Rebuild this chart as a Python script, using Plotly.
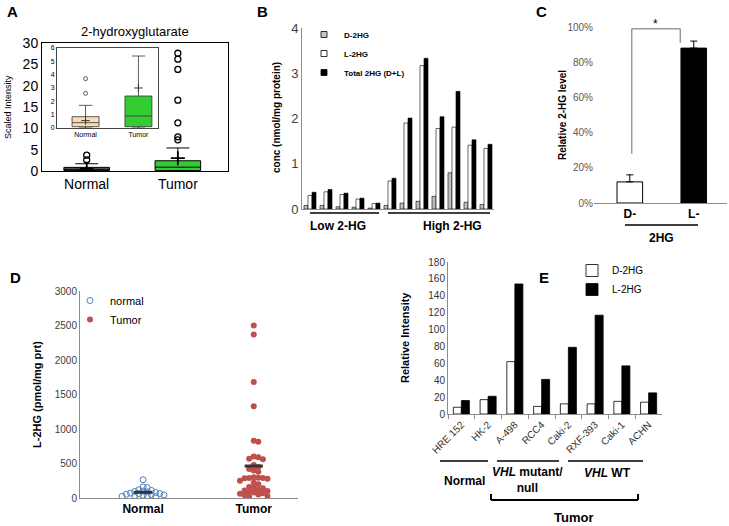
import numpy as np
import plotly.graph_objects as go

W, H = 729, 526
FONT = "Liberation Sans, Arial, sans-serif"

# --- A: 2-hydroxyglutarate (box summary) ---
a_groups = ["Normal", "Tumor"]
a_q1 = [0.1, 0.1]
a_median = [0.4, 0.9]
a_q3 = [0.85, 2.4]
a_lowfence = [0.0, 0.0]
a_upfence = [1.7, 5.4]
a_mean = [0.55, 3.0]
a_out_normal = [2.6, 3.7]
a_out_tumor = [7.3, 8.0, 11.3, 16.6, 23.8, 26.2, 27.6]

# --- B: D / L / total 2HG in tumours ---
b_samples = list(range(12))
b_d2hg = [0.08, 0.08, 0.05, 0.04, 0.02, 0.08, 0.13, 0.17, 0.28, 0.80, 0.15, 0.10]
b_l2hg = [0.30, 0.38, 0.32, 0.22, 0.12, 0.62, 1.90, 3.17, 1.78, 1.81, 1.41, 1.34]
b_total = [0.37, 0.43, 0.35, 0.24, 0.13, 0.68, 2.01, 3.33, 2.04, 2.60, 1.53, 1.43]

# --- C: relative 2-HG level ---
c_cats = ["D-", "L-"]
c_vals = [0.12, 0.88]
c_err = [0.04, 0.04]

# --- D: L-2HG normal vs tumour ---
d_normal = [265, 160, 150, 120, 110, 100, 95, 90, 80, 70, 65, 60, 55, 50, 45, 40, 35, 30, 25, 20]
d_tumor = [2500, 2370, 1680, 1330, 830, 815, 600, 590, 570, 560, 480, 450, 420, 400, 380,
           300, 295, 290, 290, 285, 280, 250, 220, 200, 160, 150, 140, 120, 110, 100,
           90, 80, 70, 60, 50, 40, 30, 20]

# --- E: cell lines ---
e_lines = ["HRE 152", "HK-2", "A-498", "RCC4", "Caki-2", "RXF-393", "Caki-1", "ACHN"]
e_d2hg = [8, 17, 62, 9, 12, 12, 15, 14]
e_l2hg = [16, 21, 154, 41, 79, 117, 57, 25]


def px(x):
    return x / W


def py(y):
    return 1 - y / H


def dom(x0, x1, y0, y1):
    # pixel box -> paper domains
    return [px(x0), px(x1)], [py(y1), py(y0)]


def swarm(vals, center, ux, uy, d):
    # simple beeswarm: push points sideways until they don't overlap
    placed, xs = [], []
    for v in vals:
        y = v * uy
        k = 0
        while True:
            off = ((k + 1) // 2) * d * (1 if k % 2 else -1) if k else 0
            if all((off - p[0]) ** 2 + (y - p[1]) ** 2 >= (0.95 * d) ** 2 for p in placed):
                break
            k += 1
        placed.append((off, y))
        xs.append(center + off / ux)
    return xs


fig = go.Figure()

# ---------- A main ----------
a_cols = ["#6e6259", "#33cc33"]
for i, g in enumerate(a_groups):
    fig.add_trace(go.Box(x=[i], q1=[a_q1[i]], median=[a_median[i]], q3=[a_q3[i]],
                         lowerfence=[a_lowfence[i]], upperfence=[a_upfence[i]],
                         width=0.5, whiskerwidth=0.5, fillcolor=a_cols[i],
                         line=dict(color="black", width=1), boxpoints=False,
                         showlegend=False, xaxis="x", yaxis="y"))
fig.add_trace(go.Scatter(x=[0] * len(a_out_normal) + [1] * len(a_out_tumor),
                         y=a_out_normal + a_out_tumor, mode="markers",
                         marker=dict(symbol="circle-open", size=6, color="black", line=dict(width=1.3)),
                         showlegend=False, xaxis="x", yaxis="y"))
fig.add_trace(go.Scatter(x=[0, 1], y=a_mean, mode="markers",
                         marker=dict(symbol="cross-thin", size=10, line=dict(width=1.8, color="black")),
                         showlegend=False, xaxis="x", yaxis="y"))

# ---------- A inset ----------
a_cols_in = ["#f8dcb4", "#33cc33"]
for i, g in enumerate(a_groups):
    fig.add_trace(go.Box(x=[i], q1=[a_q1[i]], median=[a_median[i]], q3=[a_q3[i]],
                         lowerfence=[a_lowfence[i]], upperfence=[a_upfence[i]],
                         width=0.51, whiskerwidth=0.5, fillcolor=a_cols_in[i],
                         line=dict(color="#333333", width=0.8), boxpoints=False,
                         showlegend=False, xaxis="x2", yaxis="y2"))
fig.add_trace(go.Scatter(x=[0] * len(a_out_normal), y=a_out_normal, mode="markers",
                         marker=dict(symbol="circle-open", size=4, color="#333", line=dict(width=0.8)),
                         showlegend=False, xaxis="x2", yaxis="y2"))
fig.add_trace(go.Scatter(x=[0, 1], y=a_mean, mode="markers",
                         marker=dict(symbol="cross-thin", size=6, line=dict(width=1, color="#333")),
                         showlegend=False, xaxis="x2", yaxis="y2"))

# ---------- B ----------
bar_line = dict(color="black", width=0.6)
b_names = ["D-2HG", "L-2HG", "Total 2HG (D+L)"]
b_colors = ["#c8c8c8", "white", "black"]
for vals, nm, col in zip([b_d2hg, b_l2hg, b_total], b_names, b_colors):
    mk = dict(color=col, line=bar_line)
    if nm == "D-2HG":
        mk["pattern"] = dict(shape="x", fgcolor="#777777", size=3, solidity=0.3)
    fig.add_trace(go.Bar(x=b_samples, y=vals, name=nm, marker=mk, showlegend=False,
                         xaxis="x3", yaxis="y3"))
    # small square legend keys
    fig.add_trace(go.Scatter(x=[None], y=[None], mode="markers", name="<b>%s</b>" % nm,
                             marker=dict(symbol="square", size=6, color=col,
                                         line=dict(color="black", width=0.8)),
                             xaxis="x3", yaxis="y3", legend="legend"))

# ---------- C ----------
fig.add_trace(go.Bar(x=[0, 1], y=c_vals, width=0.4,
                     marker=dict(color=["white", "black"], line=dict(color="black", width=1)),
                     error_y=dict(type="data", array=c_err, arrayminus=[0, 0], symmetric=False,
                                  color="black", thickness=1, width=3.5),
                     showlegend=False, xaxis="x4", yaxis="y4"))

# ---------- D ----------
uy = 207 / 3000
nx = swarm(d_normal, 0, 111, uy, 4.2)
tx = swarm(d_tumor, 1, 111, uy, 4.6)
fig.add_trace(go.Scatter(x=nx, y=d_normal, mode="markers", name="normal",
                         marker=dict(symbol="circle-open", size=6, color="#4f81bd", line=dict(width=1)),
                         xaxis="x5", yaxis="y5", legend="legend2"))
fig.add_trace(go.Scatter(x=tx, y=d_tumor, mode="markers", name="Tumor",
                         marker=dict(symbol="circle", size=6, color="#c0504d"),
                         xaxis="x5", yaxis="y5", legend="legend2"))
fig.add_trace(go.Scatter(x=[0, 1], y=[np.mean(d_normal), np.mean(d_tumor)], mode="markers",
                         marker=dict(symbol="line-ew", size=13, line=dict(width=3, color="#333333")),
                         showlegend=False, xaxis="x5", yaxis="y5"))

# ---------- E ----------
fig.add_trace(go.Bar(x=e_lines, y=e_d2hg, name="D-2HG", width=0.3, offset=-0.3,
                     marker=dict(color="white", line=dict(color="black", width=0.8)),
                     xaxis="x6", yaxis="y6", legend="legend3"))
fig.add_trace(go.Bar(x=e_lines, y=e_l2hg, name="L-2HG", width=0.3, offset=0.0,
                     marker=dict(color="black", line=dict(color="black", width=0.8)),
                     xaxis="x6", yaxis="y6", legend="legend3"))

# ---------- axes ----------
ax_common = dict(showgrid=False, zeroline=False, fixedrange=True, automargin=False)
xa, ya = dom(42, 228, 43, 171)
xi, yi = dom(57, 158, 48, 128)
xb, yb = dom(302, 494, 28, 209)
xc, yc = dom(594, 727, 27, 203)
xd, yd = dom(80, 298, 291, 498)
xe, ye = dom(448, 662, 262, 414)

grey = "#8c8c8c"
fig.update_layout(
    width=W, height=H, margin=dict(l=0, r=0, t=0, b=0, pad=0, autoexpand=False),
    paper_bgcolor="white", plot_bgcolor="rgba(0,0,0,0)",
    font=dict(family=FONT, color="black"),
    barmode="group",
    xaxis=dict(domain=xa, range=[-0.49, 1.55], tickvals=[0, 1], ticktext=a_groups,
               tickfont=dict(size=14), showline=True, mirror=True, linecolor="black",
               ticks="", **ax_common),
    yaxis=dict(domain=ya, range=[0, 30], tickvals=list(range(0, 31, 5)),
               tickfont=dict(size=14), showline=True, mirror=True, linecolor="black",
               ticks="", **ax_common),
    xaxis2=dict(domain=xi, range=[-0.54, 1.37], tickvals=[0, 1], ticktext=a_groups,
                tickfont=dict(size=7), showline=True, mirror=True, linecolor="#444",
                ticks="", anchor="y2", **ax_common),
    yaxis2=dict(domain=yi, range=[0, 6], tickvals=list(range(0, 7)),
                tickfont=dict(size=7), showline=True, mirror=True, linecolor="#444",
                ticks="", anchor="x2", **ax_common),
    xaxis3=dict(domain=xb, range=[-0.5, 11.5], showticklabels=False, showline=True,
                linecolor=grey, anchor="y3", **ax_common),
    yaxis3=dict(domain=yb, range=[0, 4], tickvals=[0, 1, 2, 3, 4], tickfont=dict(size=13, color="#404040"),
                showline=True, linecolor=grey, anchor="x3", ticks="", **ax_common),
    xaxis4=dict(domain=xc, range=[-0.56, 1.52], tickvals=[0, 1],
                ticktext=["<b>" + c + "</b>" for c in c_cats], tickfont=dict(size=12),
                showline=True, linecolor=grey, anchor="y4", ticks="", **ax_common),
    yaxis4=dict(domain=yc, range=[0, 1], tickvals=[0, 0.2, 0.4, 0.6, 0.8, 1.0], tickformat=".0%",
                tickfont=dict(size=10, color="#595959"), showline=False, anchor="x4", **ax_common),
    xaxis5=dict(domain=xd, range=[-0.57, 1.4], tickvals=[0, 1],
                ticktext=["<b>Normal</b>", "<b>Tumor</b>"], tickfont=dict(size=12),
                showline=True, linecolor=grey, anchor="y5", ticks="", **ax_common),
    yaxis5=dict(domain=yd, range=[0, 3000], tickvals=list(range(0, 3001, 500)),
                tickfont=dict(size=10, color="#404040"), showline=True, linecolor=grey,
                anchor="x5", ticks="", **ax_common),
    xaxis6=dict(domain=xe, tickangle=-45, tickfont=dict(size=10, color="#333"),
                showline=True, linecolor=grey, anchor="y6", ticks="outside", tickson="boundaries",
                ticklen=4, tickcolor=grey, **ax_common),
    yaxis6=dict(domain=ye, range=[0, 180], tickvals=list(range(0, 181, 20)),
                tickfont=dict(size=10, color="#333"), showline=True, linecolor=grey,
                anchor="x6", ticks="", **ax_common),
    bargap=0.25, bargroupgap=0,
    legend=dict(x=px(304), y=py(20), xanchor="left", yanchor="top", bgcolor="rgba(0,0,0,0)",
                font=dict(size=8, family=FONT), itemwidth=30),
    legend2=dict(x=px(70), y=py(286), xanchor="left", yanchor="top", bgcolor="rgba(0,0,0,0)",
                 font=dict(size=11, family=FONT), tracegroupgap=6, itemwidth=30),
    legend3=dict(x=px(572), y=py(256), xanchor="left", yanchor="top", bgcolor="rgba(0,0,0,0)",
                 font=dict(size=10, family=FONT), itemwidth=30),
)

shapes = []
ann = []


def pline(x0, y0, x1, y1, color="black", w=1.5):
    shapes.append(dict(type="line", xref="paper", yref="paper", x0=px(x0), y0=py(y0),
                       x1=px(x1), y1=py(y1), line=dict(color=color, width=w)))


def text(x, y, s, size=12, bold=False, angle=0, color="black", anchor="center"):
    ann.append(dict(x=px(x), y=py(y), xref="paper", yref="paper", text=("<b>%s</b>" % s) if bold else s,
                    showarrow=False, font=dict(size=size, color=color, family=FONT),
                    textangle=angle, xanchor=anchor, yanchor="middle"))


# panel letters
text(12, 12, "A", 15, True)
text(262, 12, "B", 15, True)
text(541, 12, "C", 15, True)
text(16, 277, "D", 15, True)
text(544, 277, "E", 15, True)

# A
text(135, 32, "2-hydroxyglutarate", 13)
text(8, 107, "Scaled Intensity", 9, angle=-90)

# B
text(276, 118, "conc (nmol/mg protein)", 10, True, angle=-90)
pline(310, 213, 379, 213)
pline(388, 213, 490, 213)
text(338, 226, "Low 2-HG", 12, True)
text(453, 226, "High 2-HG", 12, True)

# C
text(562, 115, "Relative 2-HG level", 10, True, angle=-90)
pline(625, 225, 698, 225)
text(661, 238, "2HG", 12, True)
for x0, y0, x1, y1 in [(0.03, 0.28, 0.03, 0.99), (0.03, 0.99, 0.79, 0.99), (0.79, 0.99, 0.79, 0.91)]:
    shapes.append(dict(type="line", xref="x4", yref="y4", x0=x0, y0=y0, x1=x1, y1=y1,
                       line=dict(color="#9a9a9a", width=1.5)))
text(655, 24, "*", 12)

# D
text(37, 395, "L-2HG (pmol/mg prt)", 11, True, angle=-90)

# E
text(405, 338, "Relative Intensity", 11, True, angle=-90)
pline(440, 461, 488, 461)
pline(497, 461, 559, 461)
pline(568, 461, 643, 461)
text(464, 481, "Normal", 12, True)
text(527, 480, "<i>VHL</i> mutant/<br>null", 12, True)
text(607, 473, "<i>VHL</i> WT", 12, True)
pline(491, 500, 638, 500, w=2)
pline(491, 500, 491, 494, w=2)
pline(638, 500, 638, 494, w=2)
text(573, 517, "Tumor", 13, True)

fig.update_layout(shapes=shapes, annotations=ann)
fig.write_html("out.html", config={"displayModeBar": False},
               post_script="document.body.style.margin='0px';")
